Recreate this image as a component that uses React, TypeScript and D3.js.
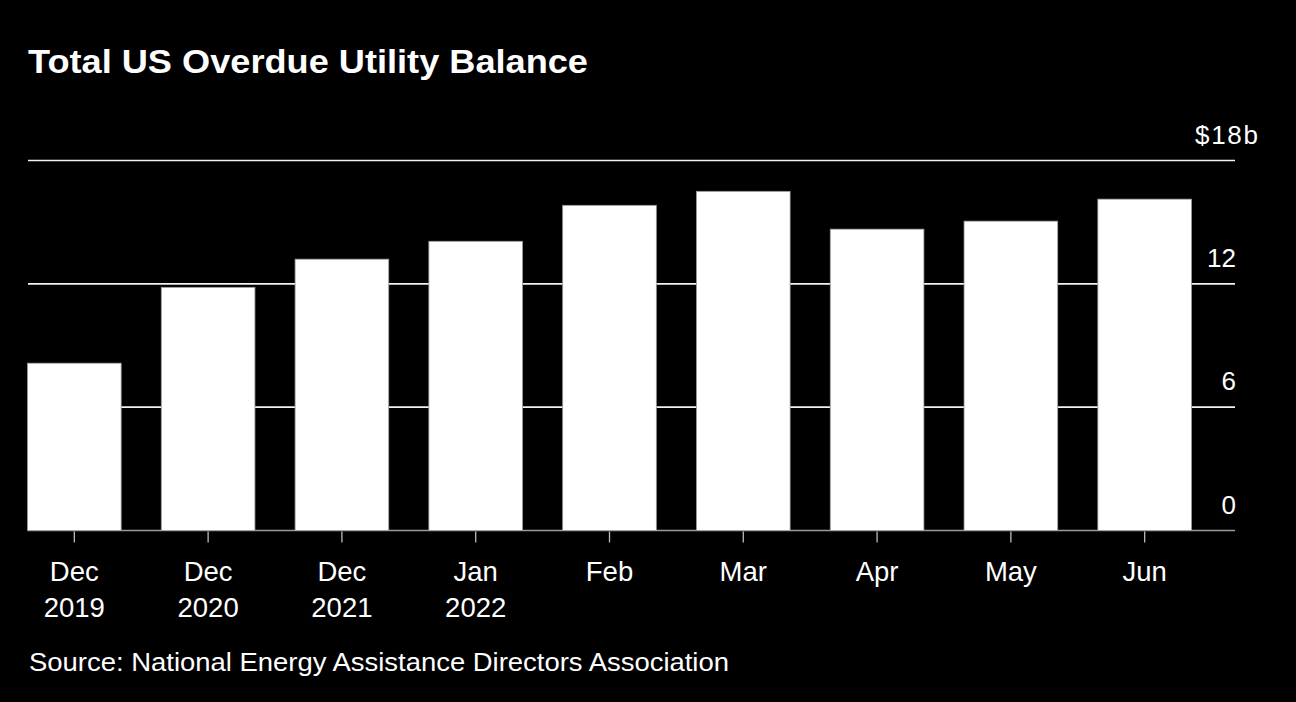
import React, { useEffect, useRef } from 'react';
import * as d3 from 'd3';

const categories = ['Dec 2019', 'Dec 2020', 'Dec 2021', 'Jan 2022', 'Feb', 'Mar', 'Apr', 'May', 'Jun'];
const balances = [8.14, 11.83, 13.2, 14.07, 15.82, 16.5, 14.66, 15.05, 16.12];
const yTicks = [0, 6, 12, 18];

const W = 1296;
const H = 702;

export default function App() {
  const svgRef = useRef<SVGSVGElement>(null);

  useEffect(() => {
    document.body.style.margin = '0';
    document.body.style.background = '#000';
    if (!svgRef.current) return;

    const font = '"Liberation Sans", Arial, Helvetica, sans-serif';
    const svg = d3.select(svgRef.current);
    svg.selectAll('*').remove();

    svg.append('rect').attr('width', W).attr('height', H).attr('fill', '#000');

    const x = d3.scaleBand<string>()
      .domain(categories)
      .range([27.5, 1191.5])
      .paddingInner(0.3)
      .paddingOuter(0);

    const y = d3.scaleLinear().domain([0, 18]).range([530.5, 160.5]);

    const gridRight = 1235;
    const labelRight = 1236;

    // grid lines
    svg.append('g')
      .selectAll('line')
      .data(yTicks.filter(t => t > 0))
      .join('line')
        .attr('x1', 28)
        .attr('x2', gridRight)
        .attr('y1', d => y(d))
        .attr('y2', d => y(d))
        .attr('stroke', '#f2f2f2')
        .attr('stroke-width', 1.6);

    // baseline
    svg.append('line')
      .attr('x1', 28).attr('x2', gridRight)
      .attr('y1', y(0)).attr('y2', y(0))
      .attr('stroke', '#9a9a9a')
      .attr('stroke-width', 1.5);

    // bars
    svg.append('g')
      .selectAll('rect')
      .data(balances)
      .join('rect')
        .attr('x', (_, i) => x(categories[i])!)
        .attr('width', x.bandwidth())
        .attr('y', d => y(d))
        .attr('height', d => y(0) - y(d))
        .attr('fill', '#fff')
        .attr('stroke', '#9a9a9a')
        .attr('stroke-width', 0.8);

    // x ticks
    svg.append('g')
      .selectAll('line')
      .data(categories)
      .join('line')
        .attr('x1', d => x(d)! + x.bandwidth() / 2)
        .attr('x2', d => x(d)! + x.bandwidth() / 2)
        .attr('y1', y(0) + 1)
        .attr('y2', y(0) + 12)
        .attr('stroke', '#bbb')
        .attr('stroke-width', 1.3);

    // x labels (two lines where needed)
    const xl = svg.append('g')
      .selectAll('text')
      .data(categories)
      .join('text')
        .attr('x', d => x(d)! + x.bandwidth() / 2)
        .attr('y', 581)
        .attr('text-anchor', 'middle')
        .attr('fill', '#fff')
        .style('font-family', font)
        .style('font-size', '27.5px');
    xl.each(function (d) {
      const t = d3.select(this);
      d.split(' ').forEach((p, i) => {
        t.append('tspan')
          .attr('x', x(d)! + x.bandwidth() / 2)
          .attr('dy', i === 0 ? 0 : 36)
          .text(p);
      });
    });

    // y labels
    const yl = svg.append('g');
    yTicks.forEach(t => {
      const lbl = yl.append('text')
        .attr('y', y(t) - 17)
        .attr('fill', '#fff')
        .style('font-family', font)
        .style('font-size', '26px');
      if (t === 18) {
        lbl.attr('x', 1195)
          .attr('textLength', 63)
          .attr('lengthAdjust', 'spacing')
          .text('$18b');
      } else {
        lbl.attr('x', labelRight).attr('text-anchor', 'end').text(String(t));
      }
    });

    // title
    svg.append('text')
      .attr('x', 28)
      .attr('y', 73)
      .attr('fill', '#fff')
      .attr('textLength', 560)
      .attr('lengthAdjust', 'spacingAndGlyphs')
      .style('font-family', font)
      .style('font-weight', 'bold')
      .style('font-size', '34px')
      .text('Total US Overdue Utility Balance');

    // source
    svg.append('text')
      .attr('x', 29)
      .attr('y', 671)
      .attr('fill', '#fff')
      .attr('textLength', 700)
      .attr('lengthAdjust', 'spacingAndGlyphs')
      .style('font-family', font)
      .style('font-size', '26px')
      .text('Source: National Energy Assistance Directors Association');
  }, []);

  return <svg ref={svgRef} width={W} height={H} style={{ display: 'block' }} />;
}
